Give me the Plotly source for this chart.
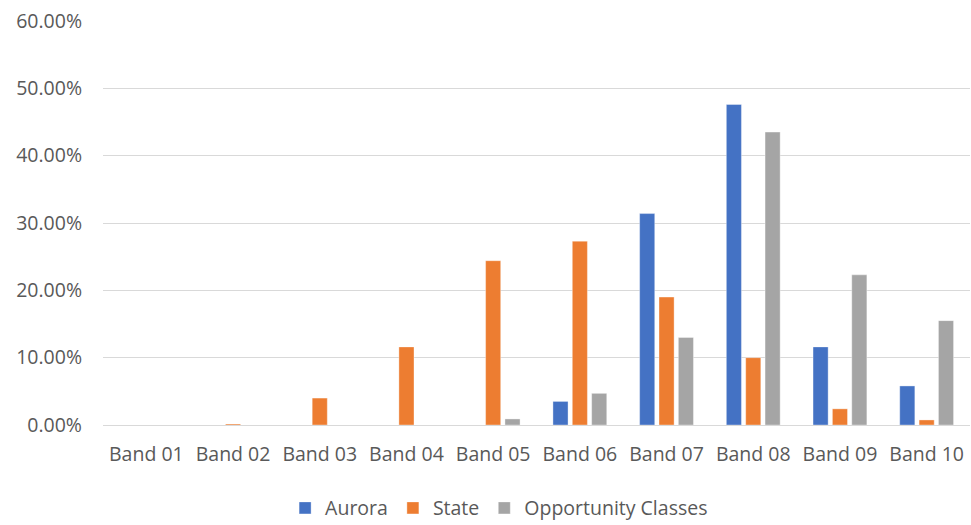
import plotly.graph_objects as go

# Share of students by band
bands = ["Band 01", "Band 02", "Band 03", "Band 04", "Band 05",
         "Band 06", "Band 07", "Band 08", "Band 09", "Band 10"]
aurora = [0.0, 0.0, 0.0, 0.0, 0.0, 0.035, 0.314, 0.476, 0.116, 0.058]
state = [0.0, 0.0015, 0.040, 0.116, 0.244, 0.273, 0.190, 0.100, 0.024, 0.0075]
opportunity = [0.0, 0.0, 0.0, 0.0, 0.009, 0.047, 0.130, 0.435, 0.223, 0.155]

series = [
    ("Aurora", aurora, "#4472C4"),
    ("State", state, "#ED7D31"),
    ("Opportunity Classes", opportunity, "#A5A5A5"),
]

FONT = "Open Sans"
TEXT = "#595959"
SIZE = 19.5

fig = go.Figure()
for name, vals, color in series:
    fig.add_trace(go.Bar(
        x=bands, y=vals, name=name,
        marker=dict(color=color, line=dict(color="rgba(255,255,255,0.6)", width=0.6)),
    ))

fig.update_layout(
    width=971, height=525,
    margin=dict(l=103, r=1, t=21, b=100, autoexpand=False),
    paper_bgcolor="white", plot_bgcolor="white",
    barmode="group", bargap=0.33, bargroupgap=0.22,
    font=dict(family=FONT, size=SIZE, color=TEXT),
    showlegend=True,
    legend=dict(
        orientation="h", xref="container", x=0.514, xanchor="center",
        yref="container", y=0.032, yanchor="middle",
        font=dict(family=FONT, size=SIZE, color=TEXT),
        itemwidth=30, traceorder="normal",
    ),
)
fig.update_yaxes(
    range=[0, 0.6], dtick=0.1, tickformat=".2%",
    showgrid=True, gridcolor="#D9D9D9", gridwidth=1.3,
    zeroline=True, zerolinecolor="#D9D9D9", zerolinewidth=1.3,
    showline=False, ticks="", ticklabelstandoff=20,
    tickfont=dict(family=FONT, size=SIZE, color=TEXT),
)
fig.update_xaxes(
    showgrid=False, showline=True, linecolor="#D9D9D9", linewidth=1.3,
    ticks="", ticklabelstandoff=11, tickangle=0,
    tickfont=dict(family=FONT, size=SIZE, color=TEXT),
)

fig.write_html("out.html")
